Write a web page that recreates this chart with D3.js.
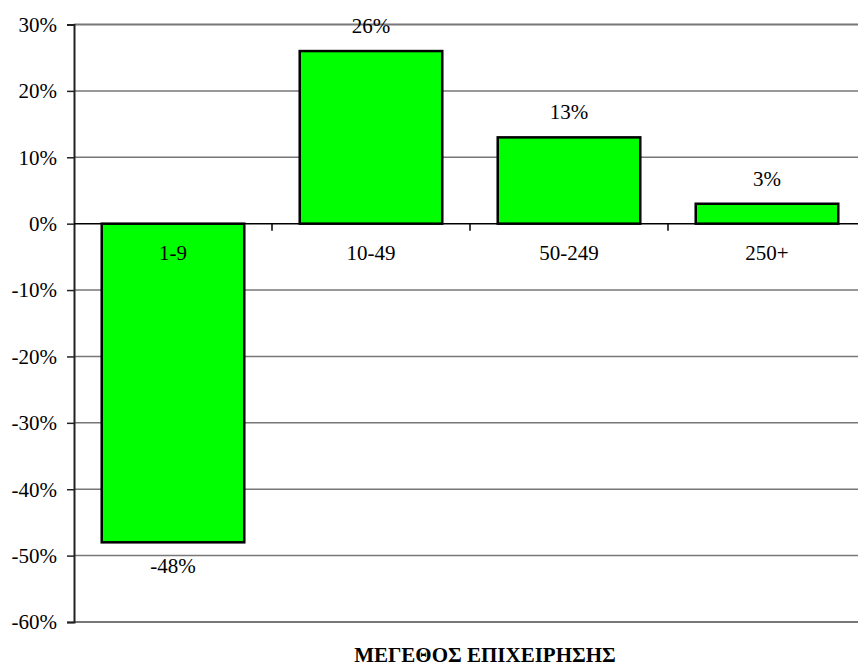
<!DOCTYPE html>
<html><head><meta charset="utf-8">
<script src="https://cdn.jsdelivr.net/npm/d3@7"></script>
<style>body{margin:0;background:#fff}svg{display:block}</style>
</head><body>
<script>
const categories = ["1-9", "10-49", "50-249", "250+"];
const values = [-0.48, 0.26, 0.13, 0.03];
const valueLabels = ["-48%", "26%", "13%", "3%"];
const yTicks = [0.3, 0.2, 0.1, 0, -0.1, -0.2, -0.3, -0.4, -0.5, -0.6];
const yTickLabels = ["30%", "20%", "10%", "0%", "-10%", "-20%", "-30%", "-40%", "-50%", "-60%"];
const xTitle = "ΜΕΓΕΘΟΣ ΕΠΙΧΕΙΡΗΣΗΣ";

(function () {
const FONT = "Liberation Serif";
const FS = 21;
const W = 858, H = 668;
const mLeft = 74, mRight = 866, mTop = 24.5, mBottom = 622;
const svg = d3.select("body").append("svg").attr("width", W).attr("height", H)
  .attr("font-family", FONT);

const x = d3.scaleBand().domain(categories).range([mLeft, mRight]).paddingInner(0.28).paddingOuter(0.14);
const y = d3.scaleLinear().domain([-0.6, 0.3]).range([mBottom, mTop]);

// gridlines
svg.append("g").selectAll("line").data(yTicks.filter(d => d !== 0)).join("line")
  .attr("x1", mLeft).attr("x2", mRight).attr("y1", d => y(d)).attr("y2", d => y(d))
  .attr("stroke", "#777").attr("stroke-width", d => (d === -0.6 || d === 0.3) ? 2 : 1.5);

// y axis
const yAxis = d3.axisLeft(y).tickValues(yTicks).tickSize(7)
  .tickFormat((d, i) => yTickLabels[i]);
const ya = svg.append("g").attr("transform", `translate(${mLeft},0)`).call(yAxis)
  .attr("font-family", FONT).attr("font-size", FS);
ya.select(".domain").attr("stroke", "#222").attr("stroke-width", 2);
ya.selectAll(".tick line").attr("stroke", "#222").attr("stroke-width", 1.5);
ya.selectAll(".tick text").attr("x", -17).attr("dy", "0.33em").attr("fill", "#000")
  .attr("font-family", FONT).attr("font-size", FS);

// bars
svg.append("g").selectAll("rect").data(values).join("rect")
  .attr("x", (d, i) => x(categories[i]))
  .attr("width", x.bandwidth())
  .attr("y", d => y(Math.max(0, d)))
  .attr("height", d => Math.abs(y(d) - y(0)))
  .attr("fill", "#00ff00").attr("stroke", "#000").attr("stroke-width", 2.5);

// zero axis
svg.append("line").attr("x1", mLeft).attr("x2", mRight).attr("y1", y(0)).attr("y2", y(0))
  .attr("stroke", "#000").attr("stroke-width", 1.5);
svg.append("g").selectAll("line").data(categories.slice(1)).join("line")
  .attr("x1", d => x(d) - x.step() * 0.14).attr("x2", d => x(d) - x.step() * 0.14)
  .attr("y1", y(0)).attr("y2", y(0) + 7).attr("stroke", "#000").attr("stroke-width", 1.5);

// category labels
svg.append("g").selectAll("text").data(categories).join("text")
  .attr("x", d => x(d) + x.bandwidth() / 2).attr("y", y(0) + 36)
  .attr("text-anchor", "middle").attr("font-family", FONT).attr("font-size", FS).text(d => d);

// value labels
svg.append("g").selectAll("text").data(values).join("text")
  .attr("x", (d, i) => x(categories[i]) + x.bandwidth() / 2)
  .attr("y", d => d >= 0 ? y(d) - 18 : y(d) + 31)
  .attr("text-anchor", "middle").attr("font-family", FONT).attr("font-size", FS)
  .text((d, i) => valueLabels[i]);

// x title
svg.append("text").attr("x", 485).attr("y", 662).attr("text-anchor", "middle")
  .attr("font-family", FONT).attr("font-size", 21).attr("font-weight", "bold").text(xTitle);
})();
</script>
</body></html>
